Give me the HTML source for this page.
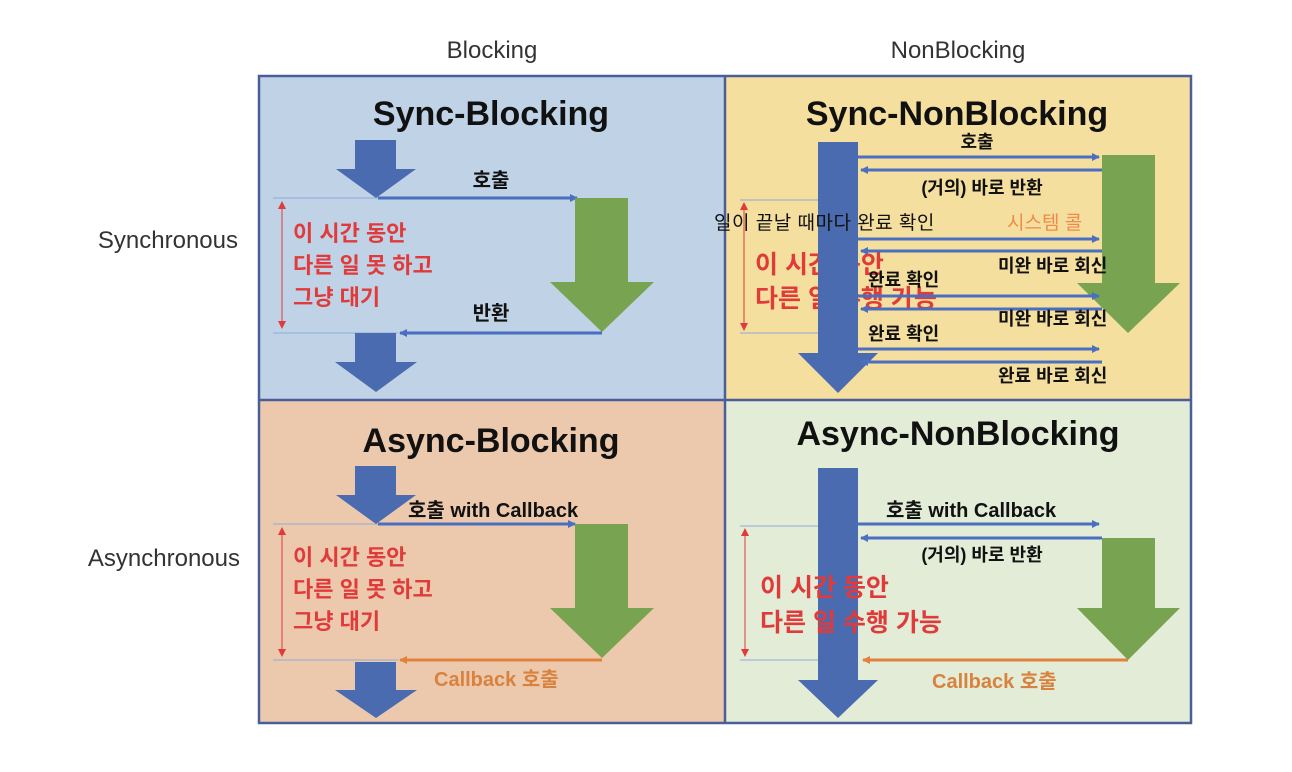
<!DOCTYPE html>
<html><head><meta charset="utf-8"><style>
html,body{margin:0;padding:0;background:#fff;}
svg{display:block;}
text{font-family:"Liberation Sans","Noto Sans CJK KR",sans-serif;}
.t{font-weight:bold;font-size:34px;fill:#111;}
.l{font-size:18px;font-weight:bold;fill:#111;}
.r{font-size:22px;font-weight:bold;fill:#e03a3a;}
.h{font-size:24px;fill:#333;}
</style></head><body>
<svg width="1292" height="772" viewBox="0 0 1292 772">
<defs>
<marker id="ab" markerWidth="8" markerHeight="8" refX="7" refY="4" orient="auto" markerUnits="userSpaceOnUse"><path d="M0,0L8,4L0,8z" fill="#4a6fc0"/></marker>
<marker id="ao" markerWidth="8" markerHeight="8" refX="7" refY="4" orient="auto" markerUnits="userSpaceOnUse"><path d="M0,0L8,4L0,8z" fill="#e0823e"/></marker>
<marker id="ar" markerWidth="8" markerHeight="8" refX="7" refY="4" orient="auto" markerUnits="userSpaceOnUse"><path d="M0,0L8,4L0,8z" fill="#e03a3a"/></marker>
</defs>
<text class="h" x="492" y="58" text-anchor="middle">Blocking</text>
<text class="h" x="958" y="58" text-anchor="middle">NonBlocking</text>
<text class="h" x="238" y="248" text-anchor="end">Synchronous</text>
<text class="h" x="240" y="566" text-anchor="end">Asynchronous</text>
<rect x="259" y="76" width="466" height="324" fill="#bfd2e6"/>
<rect x="725" y="76" width="466" height="324" fill="#f5df9e"/>
<rect x="259" y="400" width="466" height="323" fill="#ecc9ad"/>
<rect x="725" y="400" width="466" height="323" fill="#e2ecd6"/>
<rect x="259" y="76" width="932" height="647" fill="none" stroke="#4a5f9a" stroke-width="2.5"/>
<line x1="725" y1="76" x2="725" y2="723" stroke="#4a5f9a" stroke-width="2.5"/>
<line x1="259" y1="400" x2="1191" y2="400" stroke="#4a5f9a" stroke-width="2.5"/>

<!-- TL -->
<text class="t" x="491" y="125" text-anchor="middle">Sync-Blocking</text>
<path d="M355,140H396V169H416L376,198L336,169H355Z" fill="#4a6bb0"/>
<line x1="273" y1="198" x2="378" y2="198" stroke="#8eaad8" stroke-width="1"/>
<line x1="378" y1="198" x2="577" y2="198" stroke="#4a6fc0" stroke-width="3" marker-end="url(#ab)"/>
<text class="l" x="491" y="187" text-anchor="middle" font-size="20" style="font-size:20px">호출</text>
<path d="M575,198H628V282H654L602,332L550,282H575Z" fill="#78a350"/>
<text class="l" x="491" y="320" text-anchor="middle" style="font-size:20px">반환</text>
<line x1="273" y1="333" x2="398" y2="333" stroke="#8eaad8" stroke-width="1"/>
<line x1="602" y1="333" x2="400" y2="333" stroke="#4a6fc0" stroke-width="3" marker-end="url(#ab)"/>
<path d="M355,333H396V362H417L376,392L335,362H355Z" fill="#4a6bb0"/>
<line x1="282" y1="203" x2="282" y2="328" stroke="#e03a3a" stroke-width="1" marker-end="url(#ar)"/>
<line x1="282" y1="328" x2="282" y2="202" stroke="#e03a3a" stroke-width="1" marker-end="url(#ar)"/>
<text class="r" x="293" y="241">이 시간 동안</text>
<text class="r" x="293" y="273">다른 일 못 하고</text>
<text class="r" x="293" y="305">그냥 대기</text>

<!-- TR -->
<text class="t" x="957" y="125" text-anchor="middle">Sync-NonBlocking</text>
<line x1="740" y1="200" x2="818" y2="200" stroke="#8eaad8" stroke-width="1"/>
<line x1="740" y1="333" x2="818" y2="333" stroke="#8eaad8" stroke-width="1"/>
<line x1="744" y1="205" x2="744" y2="330" stroke="#e03a3a" stroke-width="1" marker-end="url(#ar)"/>
<line x1="744" y1="330" x2="744" y2="203" stroke="#e03a3a" stroke-width="1" marker-end="url(#ar)"/>
<text class="r" x="755" y="273" style="font-size:25px">이 시간 동안</text>
<text class="r" x="755" y="307" style="font-size:25px">다른 일 수행 가능</text>
<path d="M818,142H858V353H878L838,393L798,353H818Z" fill="#4a6bb0"/>
<path d="M1102,155H1155V283H1180L1128,333L1077,283H1102Z" fill="#78a350"/>
<g stroke="#4a6fc0" stroke-width="3">
<line x1="858" y1="157" x2="1099" y2="157" marker-end="url(#ab)"/>
<line x1="1102" y1="170" x2="861" y2="170" marker-end="url(#ab)"/>
<line x1="858" y1="239" x2="1099" y2="239" marker-end="url(#ab)"/>
<line x1="1102" y1="251" x2="861" y2="251" marker-end="url(#ab)"/>
<line x1="858" y1="296" x2="1099" y2="296" marker-end="url(#ab)"/>
<line x1="1102" y1="309" x2="861" y2="309" marker-end="url(#ab)"/>
<line x1="858" y1="349" x2="1099" y2="349" marker-end="url(#ab)"/>
<line x1="1102" y1="362" x2="861" y2="362" marker-end="url(#ab)"/>
</g>
<text class="l" x="977" y="148" text-anchor="middle">호출</text>
<text class="l" x="982" y="194" text-anchor="middle">(거의) 바로 반환</text>
<text class="l" x="714" y="229" style="font-weight:normal;font-size:19px;letter-spacing:0.5px">일이 끝날 때마다 완료 확인</text>
<text class="l" x="1007" y="229" style="fill:#f08a4a;font-weight:normal;font-size:19px">시스템 콜</text>
<text class="l" x="998" y="272">미완 바로 회신</text>
<text class="l" x="868" y="286">완료 확인</text>
<text class="l" x="998" y="325">미완 바로 회신</text>
<text class="l" x="868" y="340">완료 확인</text>
<text class="l" x="998" y="382">완료 바로 회신</text>

<!-- BL -->
<text class="t" x="491" y="452" text-anchor="middle">Async-Blocking</text>
<path d="M355,466H396V495H416L376,524L336,495H355Z" fill="#4a6bb0"/>
<line x1="273" y1="524" x2="378" y2="524" stroke="#8eaad8" stroke-width="1"/>
<line x1="378" y1="524" x2="575" y2="524" stroke="#4a6fc0" stroke-width="3" marker-end="url(#ab)"/>
<text class="l" x="408" y="517" style="font-size:20px">호출 with Callback</text>
<path d="M575,524H628V608H654L602,658L550,608H575Z" fill="#78a350"/>
<line x1="273" y1="660" x2="398" y2="660" stroke="#8eaad8" stroke-width="1"/>
<line x1="602" y1="660" x2="400" y2="660" stroke="#e0823e" stroke-width="3" marker-end="url(#ao)"/>
<text class="l" x="434" y="686" style="fill:#d9823e;font-size:20px">Callback 호출</text>
<path d="M355,662H396V690H417L376,718L335,690H355Z" fill="#4a6bb0"/>
<line x1="282" y1="530" x2="282" y2="656" stroke="#e03a3a" stroke-width="1" marker-end="url(#ar)"/>
<line x1="282" y1="656" x2="282" y2="528" stroke="#e03a3a" stroke-width="1" marker-end="url(#ar)"/>
<text class="r" x="293" y="565">이 시간 동안</text>
<text class="r" x="293" y="597">다른 일 못 하고</text>
<text class="r" x="293" y="629">그냥 대기</text>

<!-- BR -->
<text class="t" x="958" y="445" text-anchor="middle">Async-NonBlocking</text>
<line x1="740" y1="526" x2="818" y2="526" stroke="#8eaad8" stroke-width="1"/>
<line x1="740" y1="660" x2="818" y2="660" stroke="#8eaad8" stroke-width="1"/>
<line x1="745" y1="531" x2="745" y2="656" stroke="#e03a3a" stroke-width="1" marker-end="url(#ar)"/>
<line x1="745" y1="656" x2="745" y2="529" stroke="#e03a3a" stroke-width="1" marker-end="url(#ar)"/>
<path d="M818,468H858V680H878L838,718L798,680H818Z" fill="#4a6bb0"/>
<path d="M1102,538H1155V608H1180L1128,660L1077,608H1102Z" fill="#78a350"/>
<line x1="858" y1="524" x2="1099" y2="524" stroke="#4a6fc0" stroke-width="3" marker-end="url(#ab)"/>
<line x1="1102" y1="538" x2="861" y2="538" stroke="#4a6fc0" stroke-width="3" marker-end="url(#ab)"/>
<line x1="1128" y1="660" x2="863" y2="660" stroke="#e0823e" stroke-width="3" marker-end="url(#ao)"/>
<text class="l" x="886" y="517" style="font-size:20px">호출 with Callback</text>
<text class="l" x="982" y="561" text-anchor="middle">(거의) 바로 반환</text>
<text class="l" x="932" y="688" style="fill:#d9823e;font-size:20px">Callback 호출</text>
<text class="r" x="760" y="596" style="font-size:25px">이 시간 동안</text>
<text class="r" x="760" y="631" style="font-size:25px">다른 일 수행 가능</text>
</svg>
</body></html>
